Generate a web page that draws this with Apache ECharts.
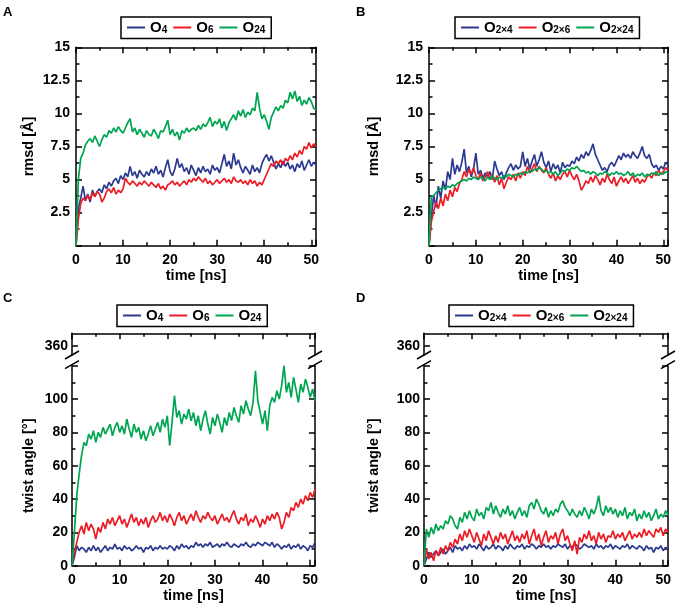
<!DOCTYPE html>
<html>
<head>
<meta charset="utf-8">
<script src="https://cdn.jsdelivr.net/npm/echarts@6/dist/echarts.min.js"></script>
<style>html,body{margin:0;padding:0;background:#fff}#c{width:680px;height:608px}</style>
</head>
<body>
<div id="c"></div>
<script>
// ---------------- DATA ----------------
const timeNs = [0,0.5,1,1.5,2,2.5,3,3.5,4,4.5,5,5.5,6,6.5,7,7.5,8,8.5,9,9.5,10,10.5,11,11.5,12,12.5,13,13.5,14,14.5,15,15.5,16,16.5,17,17.5,18,18.5,19,19.5,20,20.5,21,21.5,22,22.5,23,23.5,24,24.5,25,25.5,26,26.5,27,27.5,28,28.5,29,29.5,30,30.5,31,31.5,32,32.5,33,33.5,34,34.5,35,35.5,36,36.5,37,37.5,38,38.5,39,39.5,40,40.5,41,41.5,42,42.5,43,43.5,44,44.5,45,45.5,46,46.5,47,47.5,48,48.5,49,49.5,50,50.5,51];

// Panel A: rmsd [Å]
const rmsdO4 = [
0, 2.8, 3.6, 4.5, 3.4, 3.9, 3.3, 4.2, 3.7, 4.1,
4.3, 4.0, 4.6, 4.3, 4.8, 4.5, 4.9, 5.1, 4.7, 5.3,
5.0, 5.5, 5.2, 6.0, 5.3, 5.6, 5.1, 5.7, 5.4, 5.2,
5.6, 5.3, 5.8, 5.5, 6.0, 5.4, 5.7, 5.2, 5.9, 6.5,
5.6, 5.3, 5.8, 6.6, 5.9, 6.2, 5.6, 5.9, 5.4, 6.1,
5.7, 5.3, 5.9, 5.5, 6.0, 5.6, 5.8, 5.4, 6.1, 5.7,
5.9, 5.5, 6.2, 6.9, 6.0, 6.4, 5.8, 7.0, 6.1, 6.5,
5.9, 5.5, 6.0, 5.7, 5.4, 6.1, 5.6, 5.9, 5.5, 6.2,
6.6, 6.9, 6.4, 6.8, 6.3, 5.8, 6.2, 5.9, 6.4, 6.0,
6.3, 5.8, 6.1, 5.6, 6.2, 5.9, 6.4, 5.7, 6.1, 6.5,
6.0, 6.3, 6.1];
const rmsdO6 = [
0, 2.0, 3.2, 3.6, 3.4, 3.8, 3.5, 4.0, 3.7, 4.1,
3.9, 3.3, 3.6, 4.1, 4.3, 4.0, 4.4, 3.9, 4.2, 4.0,
4.3, 5.1, 4.8, 4.6, 4.9, 4.7, 4.5, 4.8, 4.6, 4.9,
4.7, 4.5, 4.8, 4.6, 4.4, 4.7, 4.3, 4.5, 4.2, 4.6,
4.7, 4.9, 4.6, 4.8, 4.5, 4.7, 4.9, 4.6, 5.0, 4.8,
5.1, 4.9, 5.2, 5.0, 4.8, 5.1, 4.7, 4.9, 4.6, 4.8,
5.0, 4.7, 4.9, 5.1, 4.8, 5.0, 4.7, 5.2, 4.9, 4.8,
5.0, 4.7, 4.9, 4.6, 5.0, 4.7, 4.9, 4.5, 4.8, 4.6,
5.0, 5.4, 5.8, 6.2, 6.0, 6.4, 6.2, 6.5, 6.1, 6.6,
6.4, 6.8, 6.5, 7.0, 6.7, 7.2, 6.9, 7.5, 7.3, 7.8,
7.4, 7.7, 7.5];
const rmsdO24 = [
0, 5.0, 6.6, 7.0, 7.6, 7.9, 8.1, 7.8, 8.3, 7.9,
7.5, 8.0, 8.4, 8.2, 8.7, 8.5, 8.9, 8.6, 9.0, 8.7,
8.5, 8.9, 9.3, 9.6, 8.6, 8.9, 8.4, 8.8, 8.5, 8.2,
8.7, 8.4, 8.3, 8.8, 8.5, 8.1, 8.7, 8.6, 9.0, 9.5,
8.4, 8.8, 8.3, 8.6, 8.0, 8.7, 8.5, 8.9, 8.6, 8.8,
8.9, 8.7, 9.1, 8.8, 9.2, 9.0, 9.3, 9.7, 9.0, 9.4,
9.2, 9.6, 8.9, 9.4, 8.7, 9.3, 9.6, 9.9, 9.5, 10.2,
9.8, 10.3, 9.7, 10.1, 9.9, 10.4, 10.2, 11.6, 10.4, 9.6,
9.9, 9.4, 8.8, 9.7, 10.1, 10.5, 10.2, 10.6, 10.4, 11.0,
10.8, 11.6, 11.1, 11.7, 10.9, 11.3, 10.6, 11.0, 10.7, 11.2,
10.9, 10.4, 10.3];

// Panel B: rmsd [Å]
const rmsdO2x4 = [
0, 2.2, 3.8, 2.9, 4.5, 3.6, 4.9, 4.2, 5.6, 5.0,
6.6, 5.4, 6.1, 5.6, 6.3, 7.3, 5.5, 6.0, 5.2, 5.8,
7.0, 5.4, 5.7, 5.1, 5.5, 5.2, 5.6, 5.0, 6.4, 5.8,
5.3, 5.6, 5.0, 5.5, 5.9, 6.2, 5.7, 6.1, 5.8, 6.0,
7.1, 6.0, 6.6, 5.8, 6.4, 6.9, 6.0, 6.5, 7.1, 6.3,
5.9, 6.4, 5.6, 6.2, 5.8, 6.1, 5.5, 6.3, 5.9, 6.1,
6.0, 6.4, 6.2, 6.7, 6.4, 6.9, 6.6, 7.1, 6.8, 7.2,
7.7, 6.9, 6.5, 6.1, 5.7, 5.9, 5.6, 6.1, 6.3, 6.0,
6.4, 6.8, 6.5, 7.0, 6.7, 6.9, 6.6, 7.1, 6.8, 6.6,
7.0, 7.5, 6.8, 6.6, 6.9, 6.2, 5.9, 6.1, 5.7, 6.0,
5.8, 6.3, 6.1];
const rmsdO2x6 = [
0, 1.8, 2.6, 3.3, 2.8, 3.6, 3.0, 3.9, 3.4, 4.2,
3.7, 4.4, 4.1, 4.7, 5.0, 5.6, 5.2, 5.8, 5.4, 5.9,
5.3, 5.0, 5.5, 4.9, 5.2, 5.6, 5.0, 5.4, 4.8, 5.3,
4.6, 5.1, 4.3, 4.8, 5.2, 5.0, 5.4, 4.9, 5.5, 5.1,
5.6, 5.3, 6.0, 5.5, 5.8, 6.2, 5.6, 6.0, 5.7, 5.5,
5.9, 5.4, 5.1, 5.5, 4.9, 5.3, 5.0, 5.4, 5.6, 5.2,
5.7, 5.3, 5.0, 5.4, 4.9, 4.2, 4.5, 4.9, 4.7, 5.2,
4.8, 5.3, 5.0, 4.6, 5.1, 4.8, 5.4, 5.0, 4.7, 5.2,
4.5, 4.9, 5.2, 4.8, 5.1, 4.7, 5.0, 5.3, 4.8, 5.1,
4.7, 5.0, 4.8, 5.2, 5.4, 5.1, 5.5, 5.3, 5.7, 5.4,
5.6, 5.9, 5.7];
const rmsdO2x24 = [
0, 3.7, 3.8, 4.0, 4.2, 4.3, 4.4, 4.3, 4.5, 4.4,
4.6, 4.5, 4.7, 4.8, 4.9, 5.0, 4.9, 5.1, 5.0, 5.2,
5.1, 5.0, 5.2, 5.1, 4.9, 5.2, 5.0, 5.3, 5.1, 5.0,
5.2, 5.1, 5.3, 5.2, 5.4, 5.3, 5.2, 5.4, 5.3, 5.5,
5.4, 5.6, 5.5, 5.7, 5.6, 5.8, 5.7, 5.9, 5.8, 5.6,
5.7, 5.5, 5.6, 5.4, 5.6, 5.3, 5.5, 5.7, 5.6, 5.8,
5.7, 5.9, 5.8, 6.0, 5.8, 5.6, 5.7, 5.5, 5.6, 5.4,
5.6, 5.5, 5.3, 5.5, 5.4, 5.6, 5.5, 5.3, 5.5, 5.4,
5.6, 5.4, 5.5, 5.3, 5.4, 5.6, 5.3, 5.5, 5.2, 5.4,
5.3, 5.5, 5.2, 5.4, 5.3, 5.5, 5.4, 5.6, 5.3, 5.5,
5.4, 5.6, 5.5];

// Panel C: twist angle [°]
const twistO4 = [
0, 5, 12, 9, 11, 10, 8, 11, 9, 12,
9, 11, 8, 10, 12, 9, 11, 10, 13, 10,
11, 9, 12, 10, 11, 9, 10, 12, 10, 11,
8, 11, 10, 12, 9, 11, 10, 12, 10, 11,
10, 12, 11, 9, 12, 10, 13, 11, 12, 10,
12, 11, 14, 12, 13, 11, 13, 12, 14, 11,
12, 13, 11, 13, 12, 14, 12, 11, 13, 12,
11, 13, 12, 14, 12, 11, 13, 12, 14, 13,
12, 14, 13, 12, 14, 11, 13, 12, 10, 12,
11, 13, 10, 12, 11, 13, 10, 12, 11, 9,
12, 11, 14];
const twistO6 = [
0, 8, 14, 20, 24, 19, 26, 21, 25, 22,
16, 23, 20, 26, 22, 28, 25, 29, 24, 27,
30, 25, 28, 23, 27, 31, 26, 29, 24, 28,
25, 29, 23, 27, 30, 26, 28, 32, 27, 30,
26, 31, 28, 24, 29, 32, 27, 30, 25, 28,
31, 27, 33, 29, 26, 30, 28, 32, 29, 27,
30, 25, 28, 31, 27, 29, 26, 30, 33, 28,
25, 29, 27, 31, 24, 28, 26, 30, 27, 23,
28, 25, 30, 27, 31, 28, 32, 29, 22, 26,
32, 29, 35, 33, 38, 35, 40, 37, 42, 39,
44, 41, 46];
const twistO24 = [
0, 20, 42, 55, 66, 74, 72, 79, 76, 81,
74, 80, 77, 83, 79, 82, 85, 78, 83, 86,
80, 84, 79, 88, 82, 77, 85, 80, 83, 76,
81, 75, 79, 84, 78, 82, 86, 80, 88, 83,
90, 72, 86, 102, 89, 93, 85, 91, 88, 94,
87, 92, 84, 90, 81, 88, 93, 85, 79, 89,
84, 91, 86, 80, 89, 84, 92, 87, 95, 90,
86, 96, 91, 99, 94, 90, 98, 117, 99, 92,
85, 93, 81, 96, 101, 98, 105, 100, 108, 120,
104, 110, 101, 113, 106, 98, 109, 104, 112, 107,
101, 106, 99];

// Panel D: twist angle [°]
const twistO2x4 = [
0, 4, 8, 5, 7, 9, 6, 8, 10, 7,
9, 11, 8, 12, 10, 11, 9, 12, 10, 13,
11, 12, 10, 13, 11, 9, 12, 10, 11, 13,
10, 12, 11, 9, 12, 10, 13, 11, 10, 12,
11, 13, 10, 12, 11, 13, 12, 10, 12, 11,
13, 11, 12, 10, 12, 11, 13, 12, 11, 13,
10, 12, 11, 13, 12, 10, 11, 13, 12, 11,
12, 10, 13, 11, 12, 10, 12, 11, 13, 10,
12, 11, 10, 12, 11, 13, 10, 12, 11, 10,
12, 11, 9, 12, 10, 11, 8, 11, 10, 12,
9, 11, 10];
const twistO2x6 = [
0, 10, 4, 8, 3, 9, 6, 11, 7, 12,
9, 14, 11, 16, 13, 19, 15, 21, 17, 22,
18, 14, 20, 16, 12, 19, 15, 21, 17, 13,
18, 14, 20, 16, 19, 13, 17, 21, 15, 18,
14, 19, 16, 21, 13, 18, 22, 15, 19, 12,
17, 21, 14, 18, 16, 20, 13, 19, 22, 15,
18, 13, 9, 15, 7, 17, 14, 19, 16, 21,
15, 18, 13, 20, 16, 19, 14, 18, 17, 21,
16, 19, 17, 20, 15, 18, 21, 16, 19, 17,
20, 17, 22, 18, 21, 19, 17, 22, 20, 23,
18, 22, 20];
const twistO2x24 = [
0, 22, 17, 23, 19, 25, 21, 24, 22, 27,
25, 30, 28, 24, 22, 29, 26, 32, 28, 33,
29, 27, 34, 30, 32, 28, 35, 33, 38, 31,
36, 32, 29, 34, 31, 36, 30, 33, 28, 32,
35, 30, 33, 29, 36, 38, 34, 40, 37, 33,
31, 35, 29, 33, 30, 34, 32, 37, 39, 35,
33, 30, 34, 31, 29, 33, 30, 35, 32, 28,
34, 31, 35, 42, 33, 30, 36, 32, 35, 31,
34, 29, 33, 30, 35, 28, 32, 30, 34, 27,
31, 28, 33, 29, 32, 27, 30, 34, 28, 31,
29, 33, 30];

// Tick / label values
const xLabels = [0, 10, 20, 30, 40, 50];
const rmsdLabels = [2.5, 5, 7.5, 10, 12.5, 15];
const twistLabels = [0, 20, 40, 60, 80, 100];
const twistUpperLabels = [360];

// ---------------- STYLE ----------------
const FONT = '"Liberation Sans", Arial, Helvetica, sans-serif';
const BLUE = '#2b3990', RED = '#ec1c24', GREEN = '#00a551';
const X_MAX = 51;
const MAJOR_LEN = 6, MINOR_LEN = 3.5;

const xAxes = [], yAxes = [];
function mkAxis(gridIndex, position, o) {
  const a = {
    type: 'value', gridIndex: gridIndex, position: position, min: o.min, max: o.max,
    axisLine: { show: !!o.line, onZero: false, lineStyle: { color: '#000', width: 1.5 } },
    axisTick: o.len ? { show: true, inside: true, length: o.len,
      lineStyle: { color: '#000', width: 1.5 } } : { show: false },
    axisLabel: o.labels ? { show: true, customValues: o.labels, margin: o.margin,
      fontFamily: FONT, fontWeight: 'bold', fontSize: 14, color: '#000',
      showMinLabel: true, showMaxLabel: true } : { show: false },
    splitLine: { show: false }, minorTick: { show: false }, minorSplitLine: { show: false }
  };
  if (o.interval) a.interval = o.interval;
  if (o.tickValues) a.axisTick.customValues = o.tickValues;
  if (o.name) {
    a.name = o.name; a.nameLocation = 'middle'; a.nameGap = o.nameGap;
    a.nameTextStyle = { fontFamily: FONT, fontWeight: 'bold', fontSize: 14.5, color: '#000' };
  }
  return a;
}
function addX(a) { xAxes.push(a); return xAxes.length - 1; }
function addY(a) { yAxes.push(a); return yAxes.length - 1; }

const grids = [];
const series = [];
const graphics = [];

function addSeries(name, color, vals, xi, yi) {
  series.push({
    name: name, type: 'line', xAxisIndex: xi, yAxisIndex: yi,
    data: timeNs.map((t, i) => [t, vals[i]]),
    showSymbol: false, symbol: 'none', color: color,
    lineStyle: { width: 1.7, color: color }, animation: false
  });
}

// major axis (interval 10 / long ticks) + minor axis (interval 5 / short ticks)
function xPair(gi, pos, withLabels) {
  const xi = addX(mkAxis(gi, pos, { min: 0, max: X_MAX, line: true, interval: 10, len: MAJOR_LEN,
    labels: withLabels ? xLabels : null, margin: 7,
    name: withLabels ? 'time [ns]' : null, nameGap: 23 }));
  addX(mkAxis(gi, pos, { min: 0, max: X_MAX, interval: 5, len: MINOR_LEN }));
  return xi;
}
function yPair(gi, pos, min, max, major, minor, labels, margin, name, nameGap) {
  const yi = addY(mkAxis(gi, pos, { min: min, max: max, line: true, interval: major, len: MAJOR_LEN,
    labels: labels, margin: margin, name: name, nameGap: nameGap }));
  addY(mkAxis(gi, pos, { min: min, max: max, interval: minor, len: MINOR_LEN }));
  return yi;
}

// Simple (unbroken) panel
function simplePanel(g, yName, nameGap) {
  grids.push(g);
  const gi = grids.length - 1;
  const xi = xPair(gi, 'bottom', true);
  xPair(gi, 'top', false);
  const yi = yPair(gi, 'left', 0, 15, 2.5, 1.25, rmsdLabels, 6, yName, nameGap);
  yPair(gi, 'right', 0, 15, 2.5, 1.25, null, 6, null, 0);
  return { xi: xi, yi: yi };
}

// Broken-axis panel: upper strip (around 360) + lower part (0..120)
function brokenPanel(left, width, yName, nameGap) {
  const top = 333.3, upperBottom = 355, bottomY = 565.7;
  const pxPerUnit = 33.33 / 20;
  const lowerMax = 120;
  const lowerTop = bottomY - lowerMax * pxPerUnit;
  const upperMax = 360 + (345.7 - top) / pxPerUnit;
  const upperMin = upperMax - (upperBottom - top) / pxPerUnit;
  grids.push({ left: left, top: top, width: width, height: upperBottom - top });
  const gu = grids.length - 1;
  xPair(gu, 'top', false);
  addY(mkAxis(gu, 'left', { min: upperMin, max: upperMax, line: true, len: MAJOR_LEN,
    tickValues: twistUpperLabels, labels: twistUpperLabels, margin: 4 }));
  addY(mkAxis(gu, 'right', { min: upperMin, max: upperMax, line: true, len: MAJOR_LEN,
    tickValues: twistUpperLabels }));

  grids.push({ left: left, top: lowerTop, width: width, height: bottomY - lowerTop });
  const gl = grids.length - 1;
  const xi = xPair(gl, 'bottom', true);
  const yi = yPair(gl, 'left', 0, lowerMax, 20, 10, twistLabels, 4, yName, nameGap);
  yPair(gl, 'right', 0, lowerMax, 20, 10, null, 4, null, 0);

  // break marks (double slashes) on both vertical axes
  [left, left + width].forEach(function (x) {
    [upperBottom, lowerTop - 1].forEach(function (y) {
      graphics.push({ type: 'line', silent: true, z: 100,
        shape: { x1: x - 7, y1: y + 4, x2: x + 7, y2: y - 4 },
        style: { stroke: '#000', lineWidth: 1.5 } });
    });
  });
  return { xi: xi, yi: yi };
}

const pA = simplePanel({ left: 76, top: 47.3, width: 240, height: 198.4 }, 'rmsd [Å]', 40);
addSeries('O4', BLUE, rmsdO4, pA.xi, pA.yi);
addSeries('O6', RED, rmsdO6, pA.xi, pA.yi);
addSeries('O24', GREEN, rmsdO24, pA.xi, pA.yi);

const pB = simplePanel({ left: 429, top: 47.3, width: 239, height: 198.4 }, 'rmsd [Å]', 48);
addSeries('O2×4', BLUE, rmsdO2x4, pB.xi, pB.yi);
addSeries('O2×6', RED, rmsdO2x6, pB.xi, pB.yi);
addSeries('O2×24', GREEN, rmsdO2x24, pB.xi, pB.yi);

const pC = brokenPanel(72, 243, 'twist angle [°]', 36);
addSeries('O4', BLUE, twistO4, pC.xi, pC.yi);
addSeries('O6', RED, twistO6, pC.xi, pC.yi);
addSeries('O24', GREEN, twistO24, pC.xi, pC.yi);

const pD = brokenPanel(424, 244, 'twist angle [°]', 43);
addSeries('O2×4', BLUE, twistO2x4, pD.xi, pD.yi);
addSeries('O2×6', RED, twistO2x6, pD.xi, pD.yi);
addSeries('O2×24', GREEN, twistO2x24, pD.xi, pD.yi);

function legend(left, top, names) {
  return {
    left: left, top: top, orient: 'horizontal', data: names,
    icon: 'rect', itemWidth: 18, itemHeight: 2, itemGap: 6,
    borderColor: '#000', borderWidth: 1.5, borderRadius: 0, padding: [3, 6, 3, 6],
    selectedMode: false,
    formatter: function (n) { return '{o|O}{s|' + n.slice(1) + '}'; },
    textStyle: {
      fontFamily: FONT, fontWeight: 'bold', color: '#000', fontSize: 15,
      rich: {
        o: { fontFamily: FONT, fontWeight: 'bold', fontSize: 15, lineHeight: 16, color: '#000' },
        s: { fontFamily: FONT, fontWeight: 'bold', fontSize: 10, lineHeight: 10, verticalAlign: 'bottom', color: '#000' }
      }
    }
  };
}

function letter(t, left, top) {
  return { text: t, left: left, top: top, padding: 0,
    textStyle: { fontFamily: FONT, fontWeight: 'bold', fontSize: 13, color: '#000' } };
}

const chart = echarts.init(document.getElementById('c'));
chart.setOption({
  backgroundColor: '#fff',
  animation: false,
  title: [letter('A', 3, 6), letter('B', 356, 6), letter('C', 3, 292), letter('D', 356, 292)],
  legend: [
    legend(121, 17, ['O4', 'O6', 'O24']),
    legend(455, 17, ['O2×4', 'O2×6', 'O2×24']),
    legend(117, 305, ['O4', 'O6', 'O24']),
    legend(449, 305, ['O2×4', 'O2×6', 'O2×24'])
  ],
  grid: grids,
  xAxis: xAxes,
  yAxis: yAxes,
  series: series,
  graphic: graphics
});
</script>
</body>
</html>
